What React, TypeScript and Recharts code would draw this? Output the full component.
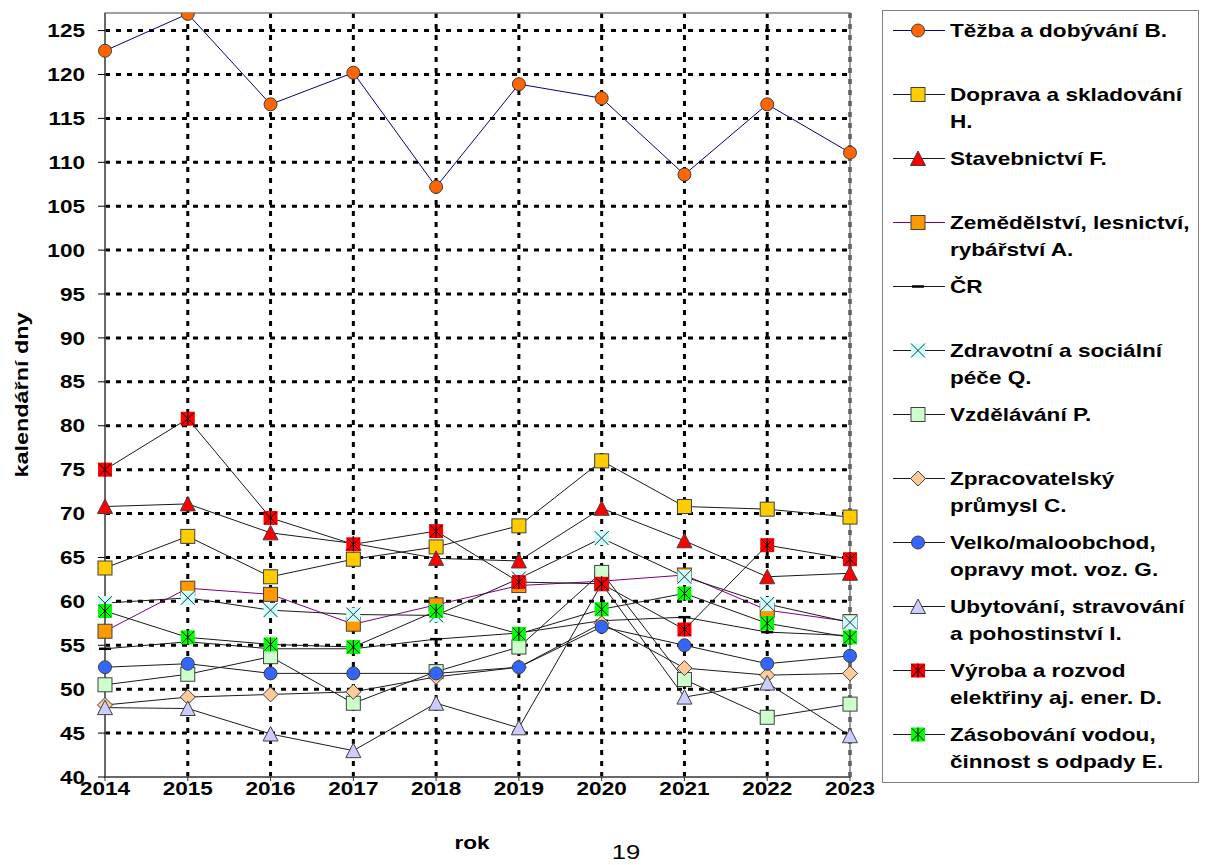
import React from "react"
import {
  LineChart,
  Line,
  XAxis,
  YAxis,
  CartesianGrid,
  ReferenceArea,
} from "recharts"

const years = ["2014", "2015", "2016", "2017", "2018", "2019", "2020", "2021", "2022", "2023"]
const yTicks = [40, 45, 50, 55, 60, 65, 70, 75, 80, 85, 90, 95, 100, 105, 110, 115, 120, 125]

const tezba = [122.7, 126.9, 116.6, 120.2, 107.2, 118.9, 117.3, 108.6, 116.6, 111.1]
const doprava = [63.8, 67.4, 62.8, 64.8, 66.2, 68.6, 76.0, 70.8, 70.5, 69.6]
const stavebnictvi = [70.8, 71.1, 67.8, 66.6, 64.9, 64.6, 70.6, 66.9, 62.8, 63.2]
const zemedelstvi = [56.6, 61.5, 60.8, 57.4, 59.6, 61.8, 62.3, 63.0, 59.0, 57.7]
const cr = [54.6, 55.4, 54.6, 54.6, 55.7, 56.4, 57.8, 58.2, 56.5, 56.1]
const zdravotni = [59.8, 60.4, 59.0, 58.5, 58.4, 62.6, 67.2, 62.8, 59.7, 57.6]
const vzdelavani = [50.5, 51.7, 53.7, 48.4, 52.0, 54.8, 63.3, 51.1, 46.8, 48.3]
const zpracovatelsky = [48.2, 49.1, 49.4, 49.7, 51.4, 52.5, 57.5, 52.4, 51.6, 51.8]
const velko = [52.5, 52.9, 51.8, 51.8, 51.8, 52.5, 57.1, 55.0, 52.9, 53.8]
const ubytovani = [47.9, 47.8, 44.9, 43.0, 48.4, 45.6, 62.0, 49.1, 50.7, 44.7]
const vyroba = [75.0, 80.8, 69.5, 66.5, 68.0, 62.2, 62.0, 56.8, 66.4, 64.8]
const zasobovani = [58.9, 55.9, 55.1, 54.8, 58.9, 56.3, 59.1, 60.9, 57.5, 55.9]

const FONT = "'Liberation Sans', Arial, Helvetica, sans-serif"
const SX = 1.22

type MarkerType = "circle" | "square" | "triangle" | "diamond" | "xsquare" | "star" | "dash"

const series: {
  key: string
  legend: string[]
  values: number[]
  stroke: string
  marker: MarkerType
  fill: string
}[] = [
  { key: "tezba", legend: ["Těžba a dobývání B."], values: tezba, stroke: "#000080", marker: "circle", fill: "#FF6600" },
  { key: "doprava", legend: ["Doprava a skladování", "H."], values: doprava, stroke: "#1a1a1a", marker: "square", fill: "#FFCC00" },
  { key: "stavebnictvi", legend: ["Stavebnictví F."], values: stavebnictvi, stroke: "#1a1a1a", marker: "triangle", fill: "#FF0000" },
  { key: "zemedelstvi", legend: ["Zemědělství, lesnictví,", "rybářství A."], values: zemedelstvi, stroke: "#800080", marker: "square", fill: "#FF9900" },
  { key: "cr", legend: ["ČR"], values: cr, stroke: "#1a1a1a", marker: "dash", fill: "#000" },
  { key: "zdravotni", legend: ["Zdravotní a sociální", "péče Q."], values: zdravotni, stroke: "#1a1a1a", marker: "xsquare", fill: "#CCFFFF" },
  { key: "vzdelavani", legend: ["Vzdělávání P."], values: vzdelavani, stroke: "#1a1a1a", marker: "square", fill: "#CCFFCC" },
  { key: "zpracovatelsky", legend: ["Zpracovatelský", "průmysl C."], values: zpracovatelsky, stroke: "#1a1a1a", marker: "diamond", fill: "#FFCC99" },
  { key: "velko", legend: ["Velko/maloobchod,", "opravy mot. voz. G."], values: velko, stroke: "#1a1a1a", marker: "circle", fill: "#3366FF" },
  { key: "ubytovani", legend: ["Ubytování, stravování", "a pohostinství I."], values: ubytovani, stroke: "#1a1a1a", marker: "triangle", fill: "#CCCCFF" },
  { key: "vyroba", legend: ["Výroba a rozvod", "elektřiny aj. ener. D."], values: vyroba, stroke: "#1a1a1a", marker: "star", fill: "#FF0000" },
  { key: "zasobovani", legend: ["Zásobování vodou,", "činnost s odpady E."], values: zasobovani, stroke: "#1a1a1a", marker: "star", fill: "#00FF00" },
]

const data = years.map((year, i) => {
  const row: any = { year }
  series.forEach((s) => (row[s.key] = s.values[i]))
  return row
})

function Marker({ type, cx, cy, fill }: { type: MarkerType; cx: number; cy: number; fill: string }) {
  const edge = "#404040"
  switch (type) {
    case "circle":
      return <circle cx={cx} cy={cy} r={6.5} fill={fill} stroke={edge} strokeWidth={1} />
    case "square":
      return <rect x={cx - 7} y={cy - 7} width={14} height={14} fill={fill} stroke={edge} strokeWidth={1} />
    case "triangle":
      return (
        <polygon
          points={`${cx},${cy - 7.5} ${cx + 7.5},${cy + 7} ${cx - 7.5},${cy + 7}`}
          fill={fill}
          stroke={edge}
          strokeWidth={1}
        />
      )
    case "diamond":
      return (
        <polygon
          points={`${cx},${cy - 7.5} ${cx + 7.5},${cy} ${cx},${cy + 7.5} ${cx - 7.5},${cy}`}
          fill={fill}
          stroke={edge}
          strokeWidth={1}
        />
      )
    case "xsquare":
      return (
        <g>
          <rect x={cx - 7} y={cy - 7} width={14} height={14} fill={fill} />
          <line x1={cx - 7} y1={cy - 7} x2={cx + 7} y2={cy + 7} stroke="#333" strokeWidth={1} />
          <line x1={cx - 7} y1={cy + 7} x2={cx + 7} y2={cy - 7} stroke="#333" strokeWidth={1} />
        </g>
      )
    case "star":
      return (
        <g>
          <rect x={cx - 7} y={cy - 7} width={14} height={14} fill={fill} />
          <line x1={cx - 6} y1={cy - 6} x2={cx + 6} y2={cy + 6} stroke="#000" strokeWidth={1} />
          <line x1={cx - 6} y1={cy + 6} x2={cx + 6} y2={cy - 6} stroke="#000" strokeWidth={1} />
          <line x1={cx} y1={cy - 7} x2={cx} y2={cy + 7} stroke="#000" strokeWidth={1} />
        </g>
      )
    case "dash":
      return <line x1={cx - 6} y1={cy} x2={cx + 6} y2={cy} stroke="#000" strokeWidth={2.5} />
  }
  return null
}

const YTick = ({ x, y, payload }: any) => (
  <text
    transform={`translate(${x},${y}) scale(${SX},1)`}
    textAnchor="end"
    dy="0.36em"
    fontFamily={FONT}
    fontWeight={700}
    fontSize={18.5}
    fill="#000"
  >
    {payload.value}
  </text>
)

const XTick = ({ x, y, payload }: any) => (
  <text
    transform={`translate(${x},${y}) scale(${SX},1)`}
    textAnchor="middle"
    dy="0.62em"
    fontFamily={FONT}
    fontWeight={700}
    fontSize={18.5}
    fill="#000"
  >
    {payload.value}
  </text>
)

function ChartLegend() {
  return (
    <div
      style={{
        position: "absolute",
        left: 882,
        top: 10,
        width: 317,
        height: 773,
        border: "1.5px solid #808080",
        boxSizing: "border-box",
        background: "#fff",
      }}
    >
      {series.map((s, i) => (
        <div key={s.key} style={{ position: "absolute", left: 0, top: 6 + i * 64, width: "100%" }}>
          <svg width={54} height={27} style={{ position: "absolute", left: 10, top: 0 }}>
            <line x1={0} x2={52} y1={13.5} y2={13.5} stroke={s.stroke} strokeWidth={1} />
            <Marker type={s.marker} cx={25} cy={13.5} fill={s.fill} />
          </svg>
          <div
            style={{
              position: "absolute",
              left: 67,
              top: 0,
              lineHeight: "27px",
              fontSize: 18.5,
              fontWeight: 700,
              fontFamily: FONT,
              whiteSpace: "nowrap",
              transform: `scaleX(${SX})`,
              transformOrigin: "left top",
              color: "#000",
            }}
          >
            {s.legend.map((l) => (
              <div key={l}>{l}</div>
            ))}
          </div>
        </div>
      ))}
    </div>
  )
}

export default function App() {
  return (
    <div style={{ position: "absolute", left: 0, top: 0, width: 1208, height: 865, background: "#fff" }}>
      <LineChart width={1208} height={865} data={data} margin={{ top: 13, right: 358, bottom: 58, left: 0 }}>
        <CartesianGrid
          stroke="#000"
          strokeWidth={3}
          strokeDasharray="5 6"
          horizontalValues={yTicks.slice(1)}
          verticalValues={years.slice(1)}
        />
        <ReferenceArea x1="2014" x2="2023" y1={40} y2={127} fill="none" stroke="#808080" strokeWidth={1.5} />
        <XAxis
          dataKey="year"
          height={30}
          axisLine={{ stroke: "#333" }}
          tickLine={{ stroke: "#333" }}
          tickSize={4}
          tickMargin={3}
          tick={<XTick />}
          interval={0}
        />
        <YAxis
          width={105}
          domain={[40, 127]}
          ticks={yTicks}
          allowDataOverflow
          axisLine={{ stroke: "#333" }}
          tickLine={{ stroke: "#000" }}
          tickSize={7}
          tickMargin={13}
          tick={<YTick />}
          interval={0}
        />
        {series.map((s) => (
          <Line
            key={s.key}
            type="linear"
            dataKey={s.key}
            name={s.legend.join(" ")}
            stroke={s.stroke}
            strokeWidth={1}
            isAnimationActive={false}
            activeDot={false}
            dot={(p: any) => <Marker key={`${s.key}-${p.index}`} type={s.marker} cx={p.cx} cy={p.cy} fill={s.fill} />}
          />
        ))}
      </LineChart>
      <div
        style={{
          position: "absolute",
          left: 22,
          top: 395,
          transform: "translate(-50%, -50%) rotate(-90deg) scale(1.3, 1.05)",
          fontFamily: FONT,
          fontWeight: 700,
          fontSize: 18,
          whiteSpace: "nowrap",
        }}
      >
        kalendářní dny
      </div>
      <div
        style={{
          position: "absolute",
          left: 472,
          top: 843,
          transform: `translate(-50%, -50%) scaleX(${SX})`,
          fontFamily: FONT,
          fontWeight: 700,
          fontSize: 18.5,
          whiteSpace: "nowrap",
        }}
      >
        rok
      </div>
      <div
        style={{
          position: "absolute",
          left: 626,
          top: 852,
          transform: `translate(-50%, -50%) scaleX(${SX})`,
          fontFamily: FONT,
          fontSize: 21,
          whiteSpace: "nowrap",
        }}
      >
        19
      </div>
      <ChartLegend />
    </div>
  )
}
